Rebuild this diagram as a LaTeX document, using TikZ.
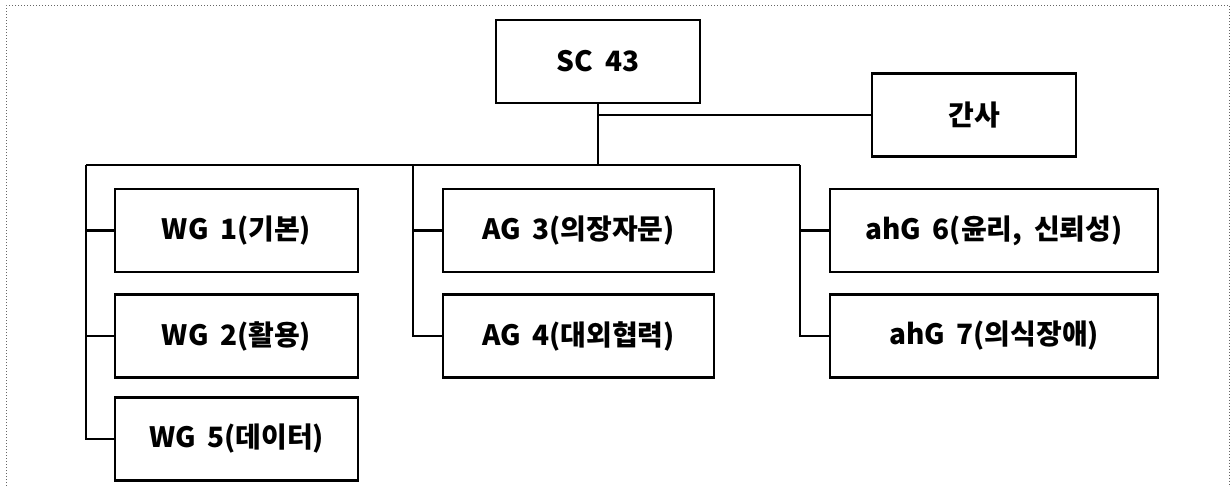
\documentclass[tikz,border=0pt]{standalone}
\usepackage{fontspec}
\setmainfont{Noto Sans CJK KR}[WordSpace=1.8]
\begin{document}
\begin{tikzpicture}[x=1pt,y=-1pt,
  box/.style={draw=black, line width=2.5pt, minimum width=#1, minimum height=83pt,
    inner sep=0pt, font=\fontsize{28}{32}\selectfont\bfseries},
  conn/.style={draw=black, line width=2.3pt},
  frame/.style={draw=black!60, dotted, line width=1pt}]
\useasboundingbox (0,0) rectangle (1231,487);
\draw[frame] (6,495) -- (6,6) -- (1229.5,6) -- (1229.5,495);

\node[box=204pt] (sc) at (598,61.5) {SC 43};
\node[box=204pt] (gansa) at (974,115) {간사};

\node[box=243pt] (wg1) at (236.5,230.5) {WG 1(기본)};
\node[box=243pt] (wg2) at (236.5,336) {WG 2(활용)};
\node[box=243pt] (wg5) at (236.5,439) {WG 5(데이터)};

\node[box=271pt] (ag3) at (578.5,230.5) {AG 3(의장자문)};
\node[box=271pt] (ag4) at (578.5,336) {AG 4(대외협력)};

\node[box=328pt] (ahg6) at (994,230.5) {ahG 6(윤리, 신뢰성)};
\node[box=328pt] (ahg7) at (994,336) {ahG 7(의식장애)};

\coordinate (junc) at (598,165);
\coordinate (bl) at (86,165);
\coordinate (bm) at (413,165);
\coordinate (br) at (800,165);

\draw[conn] (sc.south) -- (junc);
\draw[conn] (sc.south |- gansa.west) -- (gansa.west);
\draw[conn] (bl) -- (br);

\draw[conn] (bl) |- (wg5.west);
\draw[conn] (bl |- wg1.west) -- (wg1.west);
\draw[conn] (bl |- wg2.west) -- (wg2.west);

\draw[conn] (bm) |- (ag4.west);
\draw[conn] (bm |- ag3.west) -- (ag3.west);

\draw[conn] (br) |- (ahg7.west);
\draw[conn] (br |- ahg6.west) -- (ahg6.west);
\end{tikzpicture}
\end{document}
